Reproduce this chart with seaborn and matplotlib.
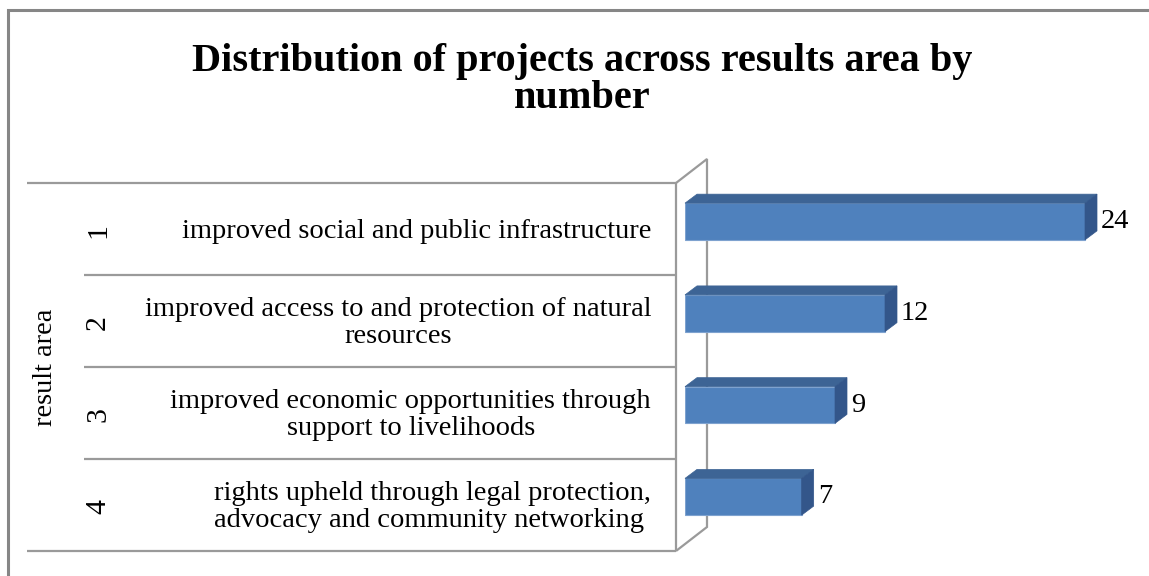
import matplotlib
matplotlib.use("Agg")
import matplotlib.pyplot as plt
from matplotlib.lines import Line2D
from matplotlib.patches import Polygon
import seaborn as sns
import pandas as pd

# ---- data ----
categories = [
    "improved social and public infrastructure",
    "improved access to and protection of natural\nresources",
    "improved economic opportunities through\nsupport to livelihoods",
    "rights upheld through legal protection,\nadvocacy and community networking ",
]
area_numbers = ["1", "2", "3", "4"]
projects = [24, 12, 9, 7]
title = "Distribution of projects across results area by\nnumber"
axis_title = "result area"

W, H = 1149, 576
sns.set_theme(style="white")
plt.rcParams["font.family"] = ["Liberation Serif", "DejaVu Serif"]

fig = plt.figure(figsize=(W / 100, H / 100), dpi=100)
fig.patch.set_facecolor("white")

LABEL_FS = 20.5
TITLE_FS = 29


def fx(x):
    return x / W


def fy(y):
    return 1 - y / H


# main bar axes (front faces)
x0_px, unit_px = 685, 400 / 24
row_px = 91.75
c0_px = 221.5
ax_top = c0_px - 0.5 * row_px
ax_bot = c0_px + 3.5 * row_px
ax_right = W
ax = fig.add_axes([fx(x0_px), fy(ax_bot), (ax_right - x0_px) / W, (ax_bot - ax_top) / H])
ax.patch.set_visible(False)

df = pd.DataFrame({"category": categories, "projects": projects})
sns.barplot(data=df, x="projects", y="category", orient="h", color="#4F81BD",
            saturation=1, width=0.40, edgecolor="#7EA2CF", linewidth=0.8, ax=ax)
ax.set_xlim(0, (ax_right - x0_px) / unit_px)
ax.set_ylim(3.5, -0.5)
ax.set_axis_off()

fig.canvas.draw()
inv = fig.transFigure.inverted()
dx, dy = 12, 9  # 3D depth in pixels
for p, val in zip(ax.patches, projects):
    x0, y0 = p.get_x(), p.get_y()
    x1, y1 = x0 + p.get_width(), y0 + p.get_height()
    (ax0, ay_a), (ax1, ay_b) = ax.transData.transform([(x0, y0), (x1, y1)])
    ay_top, ay_bot = max(ay_a, ay_b), min(ay_a, ay_b)
    top = [(ax0, ay_top), (ax1, ay_top), (ax1 + dx, ay_top + dy), (ax0 + dx, ay_top + dy)]
    side = [(ax1, ay_top), (ax1 + dx, ay_top + dy), (ax1 + dx, ay_bot + dy), (ax1, ay_bot)]
    fig.add_artist(Polygon(inv.transform(top), closed=True, facecolor="#3D6495",
                           edgecolor="#3D6495", lw=0.5, zorder=1))
    fig.add_artist(Polygon(inv.transform(side), closed=True, facecolor="#33568A",
                           edgecolor="#33568A", lw=0.5, zorder=1))
    lx, ly = inv.transform((ax1 + dx + 4, (ay_top + ay_bot) / 2))
    fig.text(lx, ly, str(val), ha="left", va="center", fontsize=LABEL_FS, color="black")

grey = "#9A9A9A"


def line(pts, lw=1.6, color=grey, z=-1):
    xs = [fx(p[0]) for p in pts]
    ys = [fy(p[1]) for p in pts]
    fig.add_artist(Line2D(xs, ys, color=color, lw=lw, zorder=z,
                          solid_capstyle="butt", solid_joinstyle="miter"))


# outer chart border (left + top)
line([(8, 576), (8, 10), (W, 10)], lw=2.2, color="#868686", z=5)

# table lines
row_lines = [183, 275, 367, 459, 551]
line([(27, row_lines[0]), (676, row_lines[0])])
line([(27, row_lines[-1]), (676, row_lines[-1])])
for y in row_lines[1:-1]:
    line([(84, y), (676, y)])
# 3D back wall
line([(676, 183), (676, 551)])
line([(676, 183), (707, 159), (707, 527), (676, 551)])

# category labels and numbers
for i, (num, cat) in enumerate(zip(area_numbers, categories)):
    cy = (row_lines[i] + row_lines[i + 1]) / 2 + 2
    fig.text(fx(651), fy(cy), cat, ha="right", va="center", fontsize=LABEL_FS,
             linespacing=1.12, multialignment="center", color="black")
    fig.text(fx(98), fy(cy), num, ha="center", va="center", fontsize=LABEL_FS + 1,
             rotation=90, color="black")

fig.text(fx(46), fy(367), axis_title, ha="center", va="center", fontsize=LABEL_FS,
         rotation=90, color="black")

fig.text(fx(582), fy(80), title, ha="center", va="center", fontsize=TITLE_FS,
         fontweight="bold", linespacing=1.03, color="black")

fig.savefig("out.png", dpi=100, facecolor="white")
